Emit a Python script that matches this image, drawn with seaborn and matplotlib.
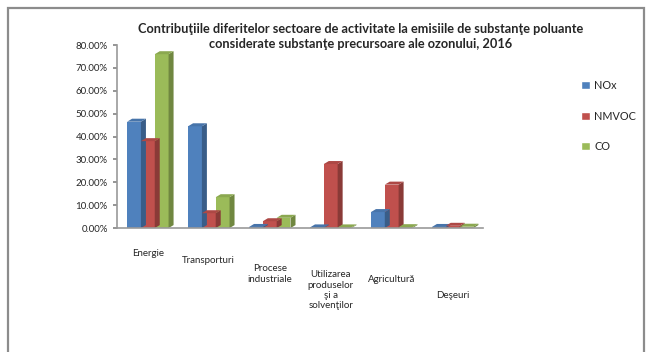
import matplotlib
matplotlib.use("Agg")
import matplotlib.pyplot as plt
import matplotlib.transforms as mtransforms
import seaborn as sns
import pandas as pd
import numpy as np
from matplotlib.patches import Polygon, Rectangle
from matplotlib.ticker import FuncFormatter
import matplotlib.colors as mcolors

categories = ["Energie", "Transporturi", "Procese\nindustriale",
              "Utilizarea\nproduselor\nşi a\nsolvenţilor", "Agricultură", "Deşeuri"]
series = ["NOx", "NMVOC", "CO"]
nox = [46.5, 44.5, 0.5, 0.3, 7.0, 0.5]
nmvoc = [38.0, 6.5, 3.0, 28.0, 19.0, 1.0]
co = [76.0, 13.5, 4.5, 0.3, 0.4, 0.6]
colors = ["#4F81BD", "#C0504D", "#9BBB59"]

df = pd.DataFrame({
    "cat": categories * 3,
    "serie": [s for s in series for _ in categories],
    "val": nox + nmvoc + co,
})

sns.set_theme(style="white")
plt.rcParams['font.family'] = ['Lato', 'DejaVu Sans']

fig = plt.figure(figsize=(6.52, 3.52), dpi=100)
ax = fig.add_axes([0.18, 0.352, 0.561, 0.52])
sns.barplot(data=df, x="cat", y="val", hue="serie", palette=colors,
            width=0.68, ax=ax, legend=False, saturation=1, linewidth=0)
ax.set_ylim(0, 80)
ax.set_xlim(-0.5, 5.5)
ax.set_yticks(np.arange(0, 81, 10))
ax.yaxis.set_major_formatter(FuncFormatter(lambda v, p: f"{v:.2f}%"))
ax.set_xlabel("")
ax.set_ylabel("")
ax.tick_params(axis="y", labelsize=7, length=3, color="#888888", pad=4, left=True)
ax.tick_params(axis="x", labelsize=7, length=0, pad=8)
for s in ["top", "right"]:
    ax.spines[s].set_visible(False)
for s in ["left", "bottom"]:
    ax.spines[s].set_color("#999999")
    ax.spines[s].set_linewidth(1.2)

# staggered category labels, following the sloping floor of the original
offsets_px = [10, 17, 25, 31, 36, 52]
for lab, off in zip(ax.get_xticklabels(), offsets_px):
    lab.set_transform(lab.get_transform() +
                      mtransforms.ScaledTranslation(0, -off / 100, fig.dpi_scale_trans))

# pseudo-3D depth on each bar (derived from bar patches)
fig.canvas.draw()
inv = ax.transData.inverted()
dx_pix, dy_pix = 5, 3
ox = inv.transform((dx_pix, 0))[0] - inv.transform((0, 0))[0]
oy = inv.transform((0, dy_pix))[1] - inv.transform((0, 0))[1]
for p in list(ax.patches):
    x0, y0 = p.get_x(), p.get_y()
    w, h = p.get_width(), p.get_height()
    rgb = np.array(mcolors.to_rgb(p.get_facecolor()))
    dark = tuple(rgb * 0.72)
    mid = tuple(np.clip(rgb * 0.9, 0, 1))
    side = Polygon([(x0 + w, y0), (x0 + w + ox, y0 + oy), (x0 + w + ox, y0 + h + oy), (x0 + w, y0 + h)],
                   closed=True, facecolor=dark, edgecolor="none", zorder=p.get_zorder())
    top = Polygon([(x0, y0 + h), (x0 + ox, y0 + h + oy), (x0 + w + ox, y0 + h + oy), (x0 + w, y0 + h)],
                  closed=True, facecolor=mid, edgecolor="none", zorder=p.get_zorder())
    ax.add_patch(side)
    ax.add_patch(top)

fig.text(0.553, 0.897, "Contribuţiile diferitelor sectoare de activitate la emisiile de substanţe poluante\n"
         "considerate substanţe precursoare ale ozonului, 2016",
         ha="center", va="center", fontsize=9.2, fontweight="bold", linespacing=1.3)

handles = [Rectangle((0, 0), 1, 1, facecolor=c) for c in colors]
fig.legend(handles, series, loc="upper left", bbox_to_anchor=(0.885, 0.785),
           frameon=False, fontsize=7.8, handlelength=0.8, handleheight=0.8,
           handletextpad=0.4, labelspacing=1.8, borderaxespad=0)

fig.add_artist(Rectangle((0.013, -0.05), 0.975, 1.028, transform=fig.transFigure,
                         fill=False, edgecolor="#8c8c8c", linewidth=1.6))

fig.savefig("out.png", dpi=100)
